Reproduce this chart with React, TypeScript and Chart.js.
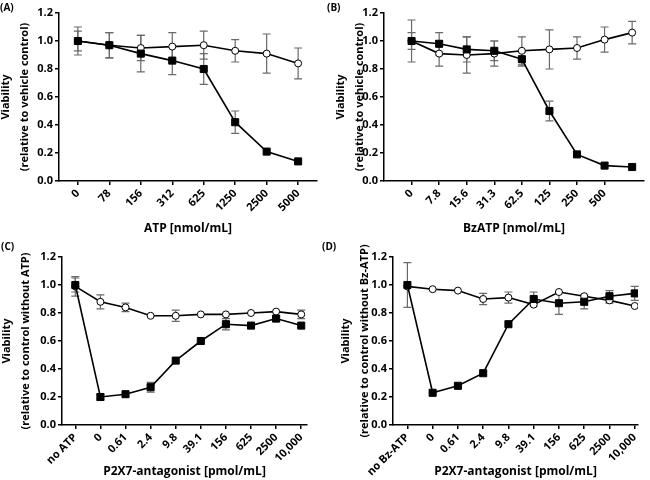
import React, { useEffect, useRef } from 'react';
import { Chart, registerables } from 'chart.js';
Chart.register(...registerables);

const FONT = "'Open Sans', sans-serif";

// Panel A: ATP
const atpLabels = ['0', '78', '156', '312', '625', '1250', '2500', '5000'];
const atpSquare = [1.0, 0.97, 0.91, 0.86, 0.8, 0.42, 0.21, 0.14];
const atpSquareErr = [0.07, 0.09, 0.13, 0.1, 0.11, 0.08, 0, 0];
const atpCircle = [1.0, 0.97, 0.95, 0.96, 0.97, 0.93, 0.91, 0.84];
const atpCircleErr = [0.1, 0.09, 0.09, 0.1, 0.1, 0.08, 0.14, 0.11];

// Panel B: BzATP (last point unlabeled)
const bzLabels = ['0', '7.8', '15.6', '31.3', '62.5', '125', '250', '500'];
const bzSquare = [1.0, 0.98, 0.94, 0.93, 0.87, 0.5, 0.19, 0.11, 0.1];
const bzSquareErr = [0.06, 0.08, 0.09, 0.07, 0.05, 0.07, 0, 0, 0];
const bzCircle = [1.0, 0.91, 0.9, 0.91, 0.93, 0.94, 0.95, 1.01, 1.06];
const bzCircleErr = [0.15, 0.09, 0.13, 0.09, 0.1, 0.14, 0.08, 0.09, 0.08];

// Panel C: antagonist with ATP
const cLabels = ['no ATP', '0', '0.61', '2.4', '9.8', '39.1', '156', '625', '2500', '10,000'];
const cSquare = [1.0, 0.2, 0.22, 0.27, 0.46, 0.6, 0.72, 0.71, 0.76, 0.71];
const cSquareErr = [0.05, 0.02, 0, 0.035, 0, 0, 0.04, 0, 0.02, 0];
const cCircle = [0.99, 0.88, 0.84, 0.78, 0.78, 0.79, 0.79, 0.8, 0.81, 0.79];
const cCircleErr = [0.07, 0.05, 0.03, 0, 0.04, 0, 0, 0, 0, 0.03];

// Panel D: antagonist with Bz-ATP
const dLabels = ['no Bz-ATP', '0', '0.61', '2.4', '9.8', '39.1', '156', '625', '2500', '10,000'];
const dSquare = [1.0, 0.23, 0.28, 0.37, 0.72, 0.9, 0.87, 0.88, 0.92, 0.94];
const dSquareErr = [0.16, 0, 0, 0, 0, 0.05, 0.08, 0.05, 0.04, 0.05];
const dCircle = [0.99, 0.97, 0.96, 0.9, 0.91, 0.86, 0.95, 0.92, 0.89, 0.85];
const dCircleErr = [0, 0, 0, 0.04, 0.04, 0, 0, 0, 0.02, 0];

const errorBarPlugin = {
  id: 'errorBars',
  beforeDatasetsDraw(chart: any) {
    const { ctx } = chart;
    const xs = chart.scales.x;
    const ys = chart.scales.y;
    chart.data.datasets.forEach((ds: any) => {
      const errs = ds.errors;
      if (!errs) return;
      ctx.save();
      ctx.strokeStyle = '#6a6a6a';
      ctx.lineWidth = 1.2;
      ds.data.forEach((p: any, i: number) => {
        const e = errs[i];
        if (!e) return;
        const x = xs.getPixelForValue(p.x);
        const yt = ys.getPixelForValue(p.y + e);
        const yb = ys.getPixelForValue(p.y - e);
        ctx.beginPath();
        ctx.moveTo(x, yt);
        ctx.lineTo(x, yb);
        ctx.moveTo(x - 4, yt);
        ctx.lineTo(x + 4, yt);
        ctx.moveTo(x - 4, yb);
        ctx.lineTo(x + 4, yb);
        ctx.stroke();
      });
      ctx.restore();
    });
  },
};

type PanelProps = {
  labels: string[];
  square: number[];
  squareErr: number[];
  circle: number[];
  circleErr: number[];
  xTitle: string;
  yTitle: string[];
  area: { left: number; right: number; top: number; bottom: number };
  xmin: number;
  xmax: number;
  yTitlePad: number;
  xTitlePadBottom: number;
  left: number;
  top: number;
};

function Panel(p: PanelProps) {
  const ref = useRef<HTMLCanvasElement | null>(null);
  useEffect(() => {
    if (!ref.current) return;
    const W = 325;
    const H = 240;
    const tickFont = { family: FONT, size: 11, weight: 'bold' as const };
    const chart = new Chart(ref.current, {
      type: 'line',
      data: {
        datasets: [
          {
            data: p.square.map((y, i) => ({ x: i, y })),
            errors: p.squareErr,
            borderColor: '#000',
            borderWidth: 1.6,
            pointStyle: 'rect',
            pointRadius: 5,
            pointBackgroundColor: '#000',
            pointBorderColor: '#000',
            pointBorderWidth: 1,
            tension: 0,
            order: 0,
          } as any,
          {
            data: p.circle.map((y, i) => ({ x: i, y })),
            errors: p.circleErr,
            borderColor: '#000',
            borderWidth: 1.6,
            pointStyle: 'circle',
            pointRadius: 3.5,
            pointBackgroundColor: '#fff',
            pointBorderColor: '#000',
            pointBorderWidth: 1,
            tension: 0,
            order: 1,
          } as any,
        ],
      },
      options: {
        responsive: false,
        animation: false,
        devicePixelRatio: 1,
        layout: { padding: { left: 0, top: p.area.top, right: W - p.area.right, bottom: 0 } },
        plugins: { legend: { display: false }, tooltip: { enabled: false } },
        scales: {
          x: {
            type: 'linear',
            min: p.xmin,
            max: p.xmax,
            afterBuildTicks: (s: any) => {
              s.ticks = p.labels.map((_, i) => ({ value: i }));
            },
            afterFit: (s: any) => {
              s.height = H - p.area.bottom;
            },
            grid: { display: true, drawOnChartArea: false, drawTicks: true, tickLength: 4, color: '#000', lineWidth: 1.5 },
            border: { display: true, color: '#000', width: 1.5 },
            ticks: {
              autoSkip: false,
              minRotation: 45,
              maxRotation: 45,
              padding: 2,
              color: '#000',
              font: tickFont,
              callback: (_v: any, i: number) => p.labels[i],
            },
            title: {
              display: true,
              text: p.xTitle,
              color: '#000',
              font: { family: FONT, size: 12, weight: 'bold' },
              padding: { top: 0, bottom: p.xTitlePadBottom },
            },
          },
          y: {
            type: 'linear',
            min: 0,
            max: 1.2,
            afterFit: (s: any) => {
              s.width = p.area.left;
            },
            grid: { display: true, drawOnChartArea: false, drawTicks: true, tickLength: 4, color: '#000', lineWidth: 1.5 },
            border: { display: true, color: '#000', width: 1.5 },
            ticks: {
              stepSize: 0.2,
              padding: 2,
              color: '#000',
              font: tickFont,
              callback: (v: any) => Number(v).toFixed(1),
            },
            title: {
              display: true,
              text: p.yTitle,
              color: '#000',
              font: { family: FONT, size: 11, weight: 'bold', lineHeight: 1.7 },
              padding: { top: p.yTitlePad, bottom: 0 },
            },
          },
        },
      } as any,
      plugins: [errorBarPlugin],
    });
    return () => chart.destroy();
  }, []);
  return (
    <canvas
      ref={ref}
      width={325}
      height={240}
      style={{ position: 'absolute', left: p.left, top: p.top, width: 325, height: 240 }}
    />
  );
}

const labelStyle: React.CSSProperties = {
  position: 'absolute',
  fontFamily: FONT,
  fontWeight: 'bold',
  fontSize: 10,
  lineHeight: '12px',
  color: '#000',
};

export default function App() {
  return (
    <div style={{ position: 'fixed', left: 0, top: 0, width: 650, height: 480, background: '#fff', overflow: 'hidden' }}>
      <Panel
        labels={atpLabels}
        square={atpSquare}
        squareErr={atpSquareErr}
        circle={atpCircle}
        circleErr={atpCircleErr}
        xTitle="ATP [nmol/mL]"
        yTitle={['Viability', '(relative to vehicle control)']}
        area={{ left: 59, right: 317, top: 13, bottom: 181 }}
        xmin={-0.6}
        xmax={7.6}
        yTitlePad={-3}
        xTitlePadBottom={4}
        left={0}
        top={0}
      />
      <Panel
        labels={bzLabels}
        square={bzSquare}
        squareErr={bzSquareErr}
        circle={bzCircle}
        circleErr={bzCircleErr}
        xTitle="BzATP [nmol/mL]"
        yTitle={['Viability', '(relative to vehicle control)']}
        area={{ left: 59, right: 322, top: 13, bottom: 181 }}
        xmin={-1.0}
        xmax={8.43}
        yTitlePad={7}
        xTitlePadBottom={4}
        left={325}
        top={0}
      />
      <Panel
        labels={cLabels}
        square={cSquare}
        squareErr={cSquareErr}
        circle={cCircle}
        circleErr={cCircleErr}
        xTitle="P2X7-antagonist [pmol/mL]"
        yTitle={['Viability', '(relative to control without ATP)']}
        area={{ left: 62, right: 307, top: 17, bottom: 185 }}
        xmin={-0.53}
        xmax={9.23}
        yTitlePad={-2}
        xTitlePadBottom={1}
        left={0}
        top={240}
      />
      <Panel
        labels={dLabels}
        square={dSquare}
        squareErr={dSquareErr}
        circle={dCircle}
        circleErr={dCircleErr}
        xTitle="P2X7-antagonist [pmol/mL]"
        yTitle={['Viability', '(relative to control without Bz-ATP)']}
        area={{ left: 68, right: 313, top: 17, bottom: 185 }}
        xmin={-0.57}
        xmax={9.13}
        yTitlePad={12}
        xTitlePadBottom={1}
        left={325}
        top={240}
      />
      <div style={{ ...labelStyle, left: 0, top: 1 }}>(A)</div>
      <div style={{ ...labelStyle, left: 327, top: 1 }}>(B)</div>
      <div style={{ ...labelStyle, left: 1, top: 240 }}>(C)</div>
      <div style={{ ...labelStyle, left: 322, top: 240 }}>(D)</div>
    </div>
  );
}
